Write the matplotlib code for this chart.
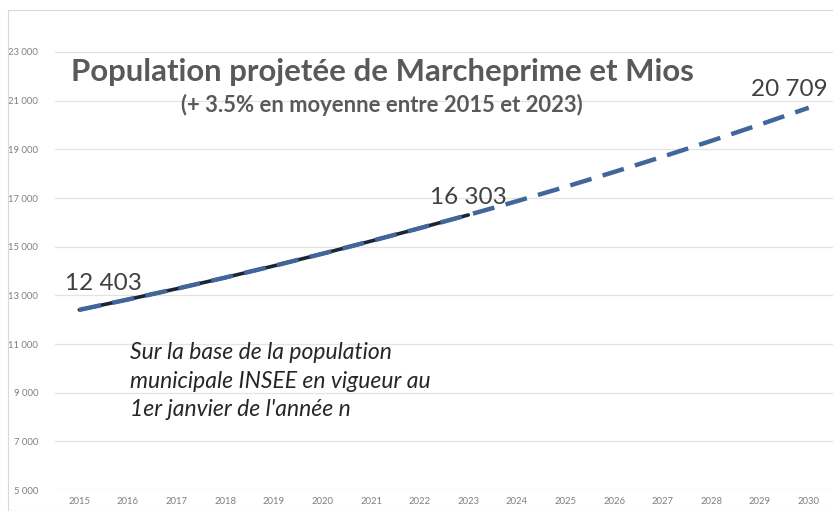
import matplotlib.pyplot as plt
import matplotlib.patches as patches
from matplotlib.ticker import FuncFormatter

plt.rcParams['font.family'] = ['Lato', 'DejaVu Sans']

# Data
years_actual = [2015, 2016, 2017, 2018, 2019, 2020, 2021, 2022, 2023]
pop_actual = [12403, 12830, 13270, 13730, 14210, 14710, 15230, 15760, 16303]

years_proj = [2015, 2016, 2017, 2018, 2019, 2020, 2021, 2022, 2023,
              2024, 2025, 2026, 2027, 2028, 2029, 2030]
pop_proj = [12403, 12830, 13270, 13730, 14210, 14710, 15230, 15760, 16303,
            16870, 17460, 18070, 18700, 19350, 20020, 20709]

label_points = {2015: 12403, 2023: 16303, 2030: 20709}
y_ticks = list(range(5000, 23001, 2000))


def fmt(v):
    return f'{int(v):,}'.replace(',', ' ')


fig = plt.figure(figsize=(8.33, 5.11), dpi=100)
ax = fig.add_axes([55 / 833, 1 - 490 / 511, 778 / 833, (490 - 52) / 511])

# light frame around the chart
fig.patches.append(patches.Rectangle((8 / 833, 0), 1, 1 - 10 / 511,
                                     transform=fig.transFigure, fill=False,
                                     edgecolor='#d9d9d9', linewidth=0.8))

ax.plot(years_actual, pop_actual, color='#1c2536', linewidth=2.6,
        solid_capstyle='round', zorder=3)
ax.plot(years_proj, pop_proj, color='#41679a', linewidth=3.2,
        dashes=(5, 2.6), zorder=4)

ax.set_xlim(2014.5, 2030.5)
ax.set_ylim(5000, 23000)
ax.set_xticks(years_proj)
ax.set_yticks(y_ticks)
ax.yaxis.set_major_formatter(FuncFormatter(lambda v, p: fmt(v)))
ax.grid(axis='y', color='#e3e3e3', linewidth=0.9)
ax.set_axisbelow(True)
for s in ax.spines.values():
    s.set_visible(False)
ax.tick_params(length=0, labelsize=6.8, labelcolor='#7f7f7f')
ax.tick_params(axis='y', pad=12)
ax.tick_params(axis='x', pad=5)

# data labels
ax.annotate(fmt(label_points[2015]), xy=(2015, label_points[2015]),
            xytext=(2015.5, 13500), ha='center', va='center', fontsize=17.5,
            color='#404040',
            arrowprops=dict(arrowstyle='-', color='#bfbfbf', linewidth=0.7,
                            shrinkA=10, shrinkB=0))
ax.text(2023, 17000, fmt(label_points[2023]), ha='center',
        va='center', fontsize=17.5, color='#404040')
ax.text(2029.6, 21460, fmt(label_points[2030]), ha='center',
        va='center', fontsize=17.5, color='#404040')

# titles
fig.text(382 / 833, 1 - 72 / 511, 'Population projetée de Marcheprime et Mios',
         ha='center', va='center', fontsize=22.4, fontweight='bold', color='#595959')
fig.text(382 / 833, 1 - 105 / 511, '(+ 3.5% en moyenne entre 2015 et 2023)',
         ha='center', va='center', fontsize=15.8, fontweight='bold', color='#595959')

fig.text(130 / 833, 1 - 381 / 511,
         "Sur la base de la population\nmunicipale INSEE en vigueur au\n1er janvier de l'année n",
         ha='left', va='center', fontsize=16.5, style='italic', color='#262626',
         linespacing=1.42)

fig.savefig('out.png', dpi=100)
